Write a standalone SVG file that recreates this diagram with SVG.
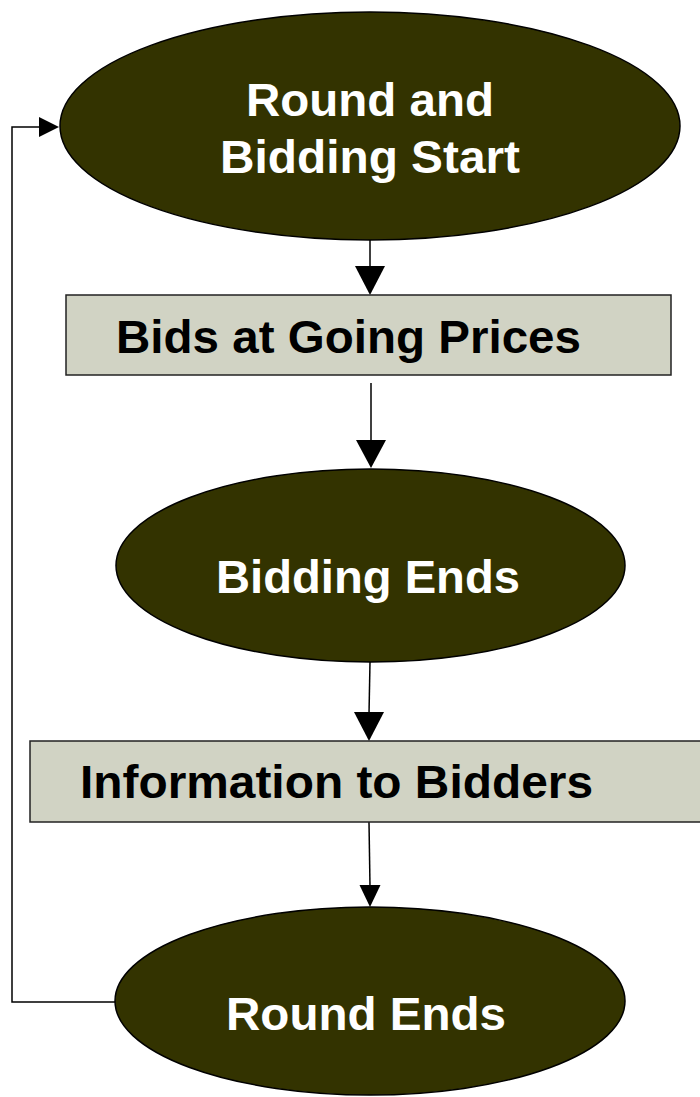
<svg xmlns="http://www.w3.org/2000/svg" width="700" height="1097" viewBox="0 0 700 1097">
<defs>
<style>
.ell{fill:#333300;stroke:#000;stroke-width:1.5}
.box{fill:#d1d3c4;stroke:#222;stroke-width:1.5}
.wt{font-family:"Liberation Sans",Arial,sans-serif;font-weight:bold;font-size:46px;fill:#fff}
.bt{font-family:"Liberation Sans",Arial,sans-serif;font-weight:bold;font-size:46px;fill:#000}
.ln{fill:none;stroke:#000;stroke-width:1.5}
</style>
<marker id="ah" viewBox="0 0 10 10" refX="10" refY="5" markerWidth="10" markerHeight="10" markerUnits="userSpaceOnUse" orient="auto"><path d="M0,0 L10,5 L0,10 Z" fill="#000"/></marker>
</defs>
<rect width="700" height="1097" fill="#fff"/>
<g id="connectors">
<line class="ln" x1="370" y1="240" x2="370" y2="268"/>
<polygon points="355,266 385,266 370,295" fill="#000"/>
<line class="ln" x1="371" y1="383" x2="371" y2="442"/>
<polygon points="356,440 386,440 371,468" fill="#000"/>
<line class="ln" x1="370" y1="662" x2="369" y2="714"/>
<polygon points="354,712 384,712 369,741" fill="#000"/>
<line class="ln" x1="369" y1="822" x2="370" y2="887"/>
<polygon points="359.5,885 380.5,885 370,907" fill="#000"/>
<polyline class="ln" points="115,1002 12,1002 12,127 42,127"/>
<polygon points="39,117 39,137 59,127" fill="#000"/>
</g>
<g id="n1">
<ellipse class="ell" cx="370" cy="126" rx="310" ry="114"/>
<text class="wt" x="246" y="116" textLength="248" lengthAdjust="spacingAndGlyphs">Round and</text>
<text class="wt" x="220" y="173" textLength="300" lengthAdjust="spacingAndGlyphs">Bidding Start</text>
</g>
<g id="n2">
<rect class="box" x="66" y="295" width="605" height="80"/>
<text class="bt" x="116" y="353" textLength="465" lengthAdjust="spacingAndGlyphs">Bids at Going Prices</text>
</g>
<g id="n3">
<ellipse class="ell" cx="370.5" cy="565.5" rx="254.5" ry="96.5"/>
<text class="wt" x="216" y="593" textLength="304" lengthAdjust="spacingAndGlyphs">Bidding Ends</text>
</g>
<g id="n4">
<rect class="box" x="30" y="741" width="680" height="81"/>
<text class="bt" x="80" y="798" textLength="513" lengthAdjust="spacingAndGlyphs">Information to Bidders</text>
</g>
<g id="n5">
<ellipse class="ell" cx="370" cy="1001" rx="255" ry="94"/>
<text class="wt" x="226" y="1030" textLength="280" lengthAdjust="spacingAndGlyphs">Round Ends</text>
</g>
</svg>
